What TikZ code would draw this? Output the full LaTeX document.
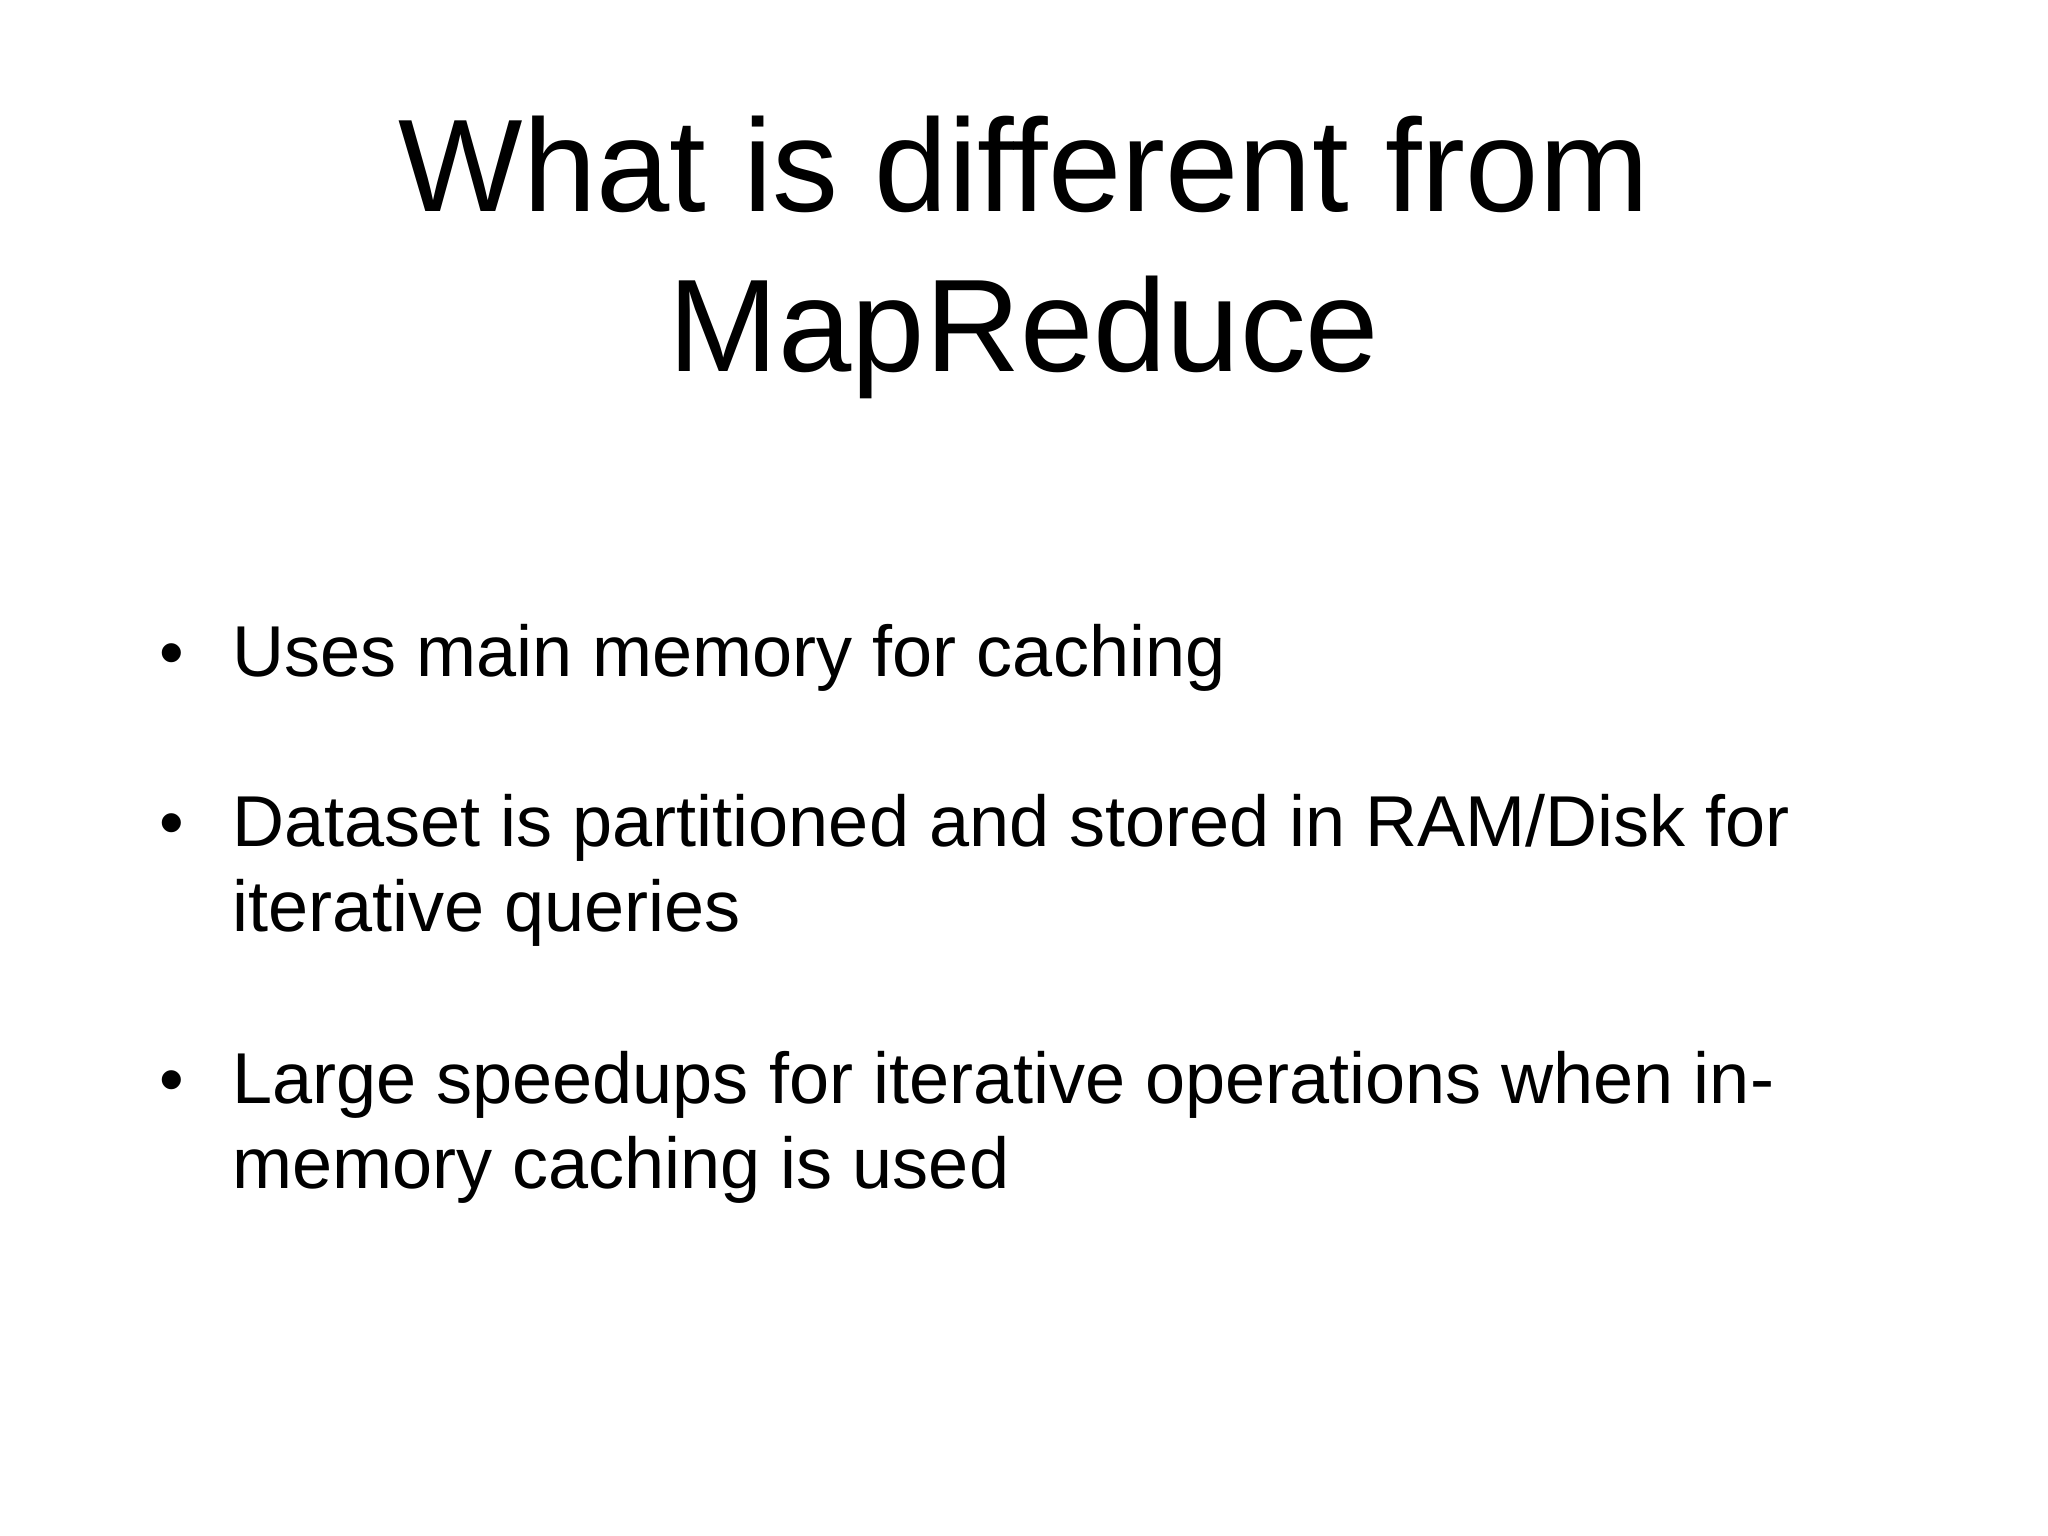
\documentclass[tikz,border=0pt]{standalone}
\usepackage{fontspec}
\setmainfont{Liberation Sans}
\usetikzlibrary{positioning}
\tikzset{
  titletext/.style={anchor=base,font=\fontsize{37.5}{46}\selectfont},
  itemtext/.style={anchor=base west,font=\fontsize{20.5}{24.2}\selectfont},
  dot/.style={anchor=base,font=\fontsize{20}{24}\selectfont}
}
\begin{document}
\begin{tikzpicture}
  \useasboundingbox (0,0) rectangle (20.48,-15.36);
  % Title
  \node[titletext] (title1) at (10.24,-2.12) {What is different from};
  \node[titletext] (title2) at (10.24,-3.72) {MapReduce};

  % Bullets
  \node[dot] (b1) at (1.72,-6.77) {\textbullet};
  \node[itemtext] (i1) at (2.2,-6.77) {Uses main memory for caching};
  \node[dot] (b2) at (1.72,-8.46) {\textbullet};
  \node[itemtext] (i2a) at (2.2,-8.46) {Dataset is partitioned and stored in RAM/Disk for};
  \node[itemtext] (i2b) at (2.2,-9.31) {iterative queries};
  \node[dot] (b3) at (1.72,-11.03) {\textbullet};
  \node[itemtext] (i3a) at (2.2,-11.03) {Large speedups for iterative operations when in-};
  \node[itemtext] (i3b) at (2.2,-11.88) {memory caching is used};
\end{tikzpicture}
\end{document}
